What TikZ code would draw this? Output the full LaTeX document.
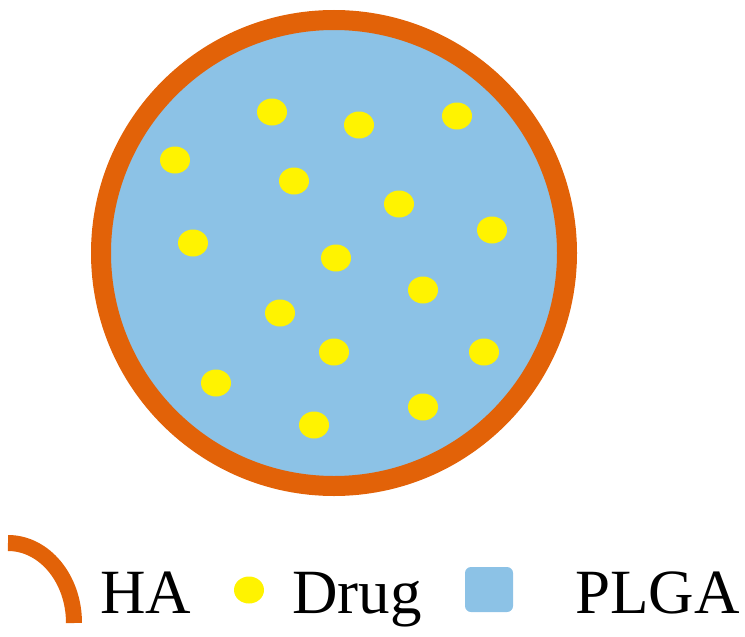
\documentclass[tikz,border=0pt]{standalone}
\usepackage{fontspec}
\setmainfont{Liberation Serif}
\definecolor{haorange}{RGB}{226,98,8}
\definecolor{plgablue}{RGB}{140,194,230}
\definecolor{drugyellow}{RGB}{255,243,0}
\tikzset{
  drug/.style={fill=drugyellow},
  legtext/.style={anchor=base west, inner sep=0pt, font=\fontsize{63}{70}\selectfont}
}
\begin{document}
\begin{tikzpicture}[x=1pt,y=-1pt]
        \useasboundingbox (0,0) rectangle (745,637);
        \coordinate (O) at (334,253);

        % particle
        \draw[haorange, line width=20pt, fill=plgablue] (O) circle (233);

        \coordinate (D1) at (272,112);
        \coordinate (D2) at (359,125);
        \coordinate (D3) at (457,116);
        \coordinate (D4) at (175,160);
        \coordinate (D5) at (294,181);
        \coordinate (D6) at (399,204);
        \coordinate (D7) at (492,230);
        \coordinate (D8) at (193,243);
        \coordinate (D9) at (336,258);
        \coordinate (D10) at (423,290);
        \coordinate (D11) at (280,313);
        \coordinate (D12) at (334,352);
        \coordinate (D13) at (484,352);
        \coordinate (D14) at (216,383);
        \coordinate (D15) at (314,425);
        \coordinate (D16) at (423,407);

        \fill[drug] (D1) ellipse (15 and 13.5);
        \fill[drug] (D2) ellipse (15 and 13.5);
        \fill[drug] (D3) ellipse (15 and 13.5);
        \fill[drug] (D4) ellipse (15 and 13.5);
        \fill[drug] (D5) ellipse (15 and 13.5);
        \fill[drug] (D6) ellipse (15 and 13.5);
        \fill[drug] (D7) ellipse (15 and 13.5);
        \fill[drug] (D8) ellipse (15 and 13.5);
        \fill[drug] (D9) ellipse (15 and 13.5);
        \fill[drug] (D10) ellipse (15 and 13.5);
        \fill[drug] (D11) ellipse (15 and 13.5);
        \fill[drug] (D12) ellipse (15 and 13.5);
        \fill[drug] (D13) ellipse (15 and 13.5);
        \fill[drug] (D14) ellipse (15 and 13.5);
        \fill[drug] (D15) ellipse (15 and 13.5);
        \fill[drug] (D16) ellipse (15 and 13.5);

        % legend
        \coordinate (A) at (8,543);
        \draw[haorange, line width=16pt] (A) arc[start angle=-90, end angle=0, x radius=66, y radius=80];
        \node[legtext] (ha) at (100,613) {HA};
        \fill[drug] (249,590) ellipse (15 and 13.5);
        \node[legtext] (drug) at (292,613) {Drug};
        \fill[plgablue, rounded corners=6pt] (465,567) rectangle (513,612);
        \node[legtext] (plga) at (575,613) {PLGA};

    \end{tikzpicture}
\end{document}
